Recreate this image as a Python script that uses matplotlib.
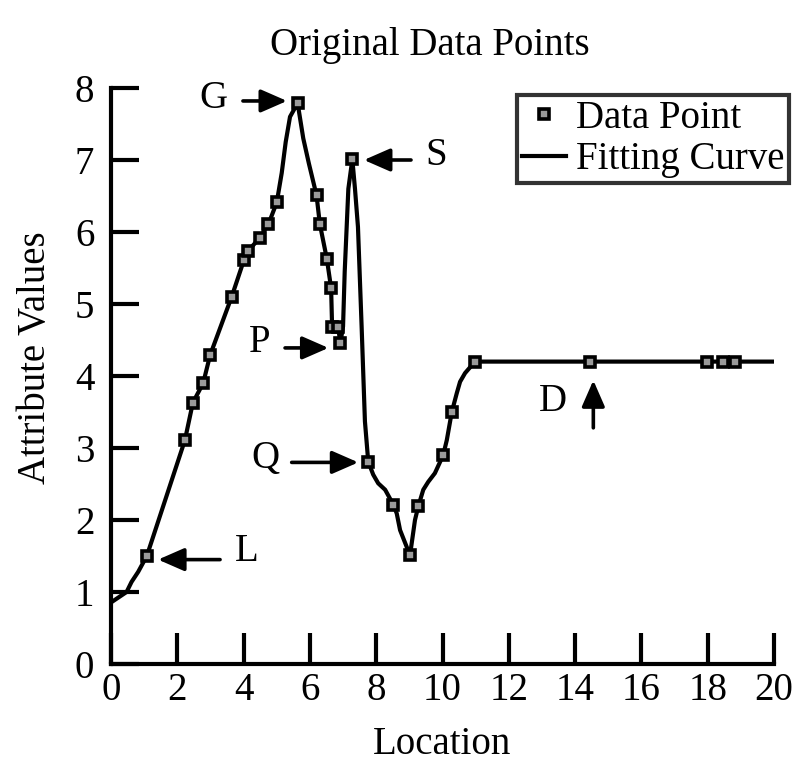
import matplotlib
matplotlib.use("Agg")
import matplotlib.pyplot as plt

plt.rcParams['font.family'] = ['Liberation Serif', 'DejaVu Serif']

# Data points
point_x = [1.08, 2.23, 2.47, 2.78, 2.99, 3.64, 4.01, 4.14, 4.49, 4.75, 5.00, 5.63,
           6.20, 6.30, 6.51, 6.64, 6.67, 6.85, 6.92, 7.28, 7.76, 8.52, 9.02, 9.27,
           10.02, 10.28, 10.98, 14.45, 17.97, 18.47, 18.82]
point_y = [1.50, 3.11, 3.63, 3.90, 4.29, 5.10, 5.61, 5.74, 5.92, 6.11, 6.41, 7.79,
           6.51, 6.11, 5.63, 5.22, 4.68, 4.68, 4.46, 7.01, 2.81, 2.21, 1.51, 2.19,
           2.90, 3.50, 4.20, 4.20, 4.20, 4.20, 4.20]

# Fitting curve vertices
curve_x = [0.05, 0.47, 0.62, 0.82, 1.08, 2.23, 2.47, 2.78, 2.99, 3.64, 4.01, 4.14,
           4.49, 4.75, 5.00, 5.15, 5.27, 5.40, 5.63, 5.80, 5.97, 6.20, 6.30, 6.51,
           6.64, 6.67, 6.85, 6.92, 7.00, 7.05, 7.16, 7.28, 7.36, 7.45, 7.56, 7.66,
           7.76, 7.91, 8.06, 8.27, 8.52, 8.62, 8.72, 9.02, 9.17, 9.27, 9.42, 9.57,
           9.77, 10.02, 10.13, 10.28, 10.43, 10.53, 10.68, 10.98, 20.0]
curve_y = [0.87, 1.00, 1.14, 1.28, 1.50, 3.11, 3.63, 3.90, 4.29, 5.10, 5.61, 5.74,
           5.92, 6.11, 6.41, 6.82, 7.25, 7.60, 7.79, 7.30, 6.95, 6.51, 6.11, 5.63,
           5.22, 4.68, 4.68, 4.46, 4.69, 5.45, 6.60, 7.01, 6.60, 6.07, 4.69, 3.37,
           2.81, 2.63, 2.51, 2.42, 2.21, 2.09, 1.86, 1.51, 2.00, 2.19, 2.42, 2.53,
           2.65, 2.90, 3.11, 3.50, 3.76, 3.92, 4.04, 4.20, 4.20]

# Annotations: label, label position, arrow tail, arrow tip
ann_labels = ['G', 'S', 'P', 'Q', 'L', 'D']
ann_text_xy = [(3.08, 7.86), (9.80, 7.06), (4.49, 4.46), (4.65, 2.86), (4.09, 1.56), (13.33, 3.64)]
ann_tail = [(3.98, 7.82), (9.05, 7.00), (5.25, 4.39), (5.45, 2.80), (3.29, 1.45), (14.55, 3.28)]
ann_tip = [(5.31, 7.82), (7.63, 7.00), (6.56, 4.39), (7.46, 2.80), (1.42, 1.45), (14.55, 3.94)]

x_ticks = list(range(0, 21, 2))
y_ticks = list(range(0, 9))

fig = plt.figure(figsize=(7.95, 7.65), dpi=100)
ax = fig.add_axes([111 / 795, 1 - 664 / 765, (774 - 111) / 795, (664 - 88) / 765])

ax.plot(curve_x, curve_y, color='black', lw=3, label='Fitting Curve', zorder=2)
ax.plot(point_x, point_y, ls='none', marker='s', ms=7, mfc='#9a9a9a', mec='black',
        mew=2.6, label='Data Point', zorder=3)

for lab, txy, tail, tip in zip(ann_labels, ann_text_xy, ann_tail, ann_tip):
    ax.text(txy[0], txy[1], lab, fontsize=28, ha='center', va='center')
    ax.annotate('', xy=tip, xytext=tail,
                arrowprops=dict(arrowstyle='-|>,head_length=0.8,head_width=0.35',
                                lw=2.6, color='black', mutation_scale=20,
                                shrinkA=0, shrinkB=0))

ax.set_xlim(0, 20)
ax.set_ylim(0, 8)
ax.set_xticks(x_ticks)
ax.set_yticks(y_ticks)
ax.spines['top'].set_visible(False)
ax.spines['right'].set_visible(False)
for s in ('left', 'bottom'):
    ax.spines[s].set_linewidth(3)
ax.tick_params(axis='y', direction='in', length=20, width=3, labelsize=28, pad=12)
ax.tick_params(axis='x', direction='in', length=22, width=3, labelsize=28, pad=6)

fig.text(430 / 795, 1 - 46 / 765, 'Original Data Points', fontsize=28, ha='center', va='center')
fig.text(442 / 795, 1 - 745 / 765, 'Location', fontsize=28, ha='center', va='center')
fig.text(36 / 795, 1 - 358 / 765, 'Attribute Values', fontsize=28, ha='center', va='center',
         rotation=90)

h, l = ax.get_legend_handles_labels()
leg = fig.legend([h[1], h[0]], [l[1], l[0]], loc='upper left',
                 bbox_to_anchor=(517 / 795, 1 - 95 / 765), borderaxespad=0,
                 fontsize=28, frameon=True, fancybox=False, borderpad=0.12,
                 handlelength=1.15, handletextpad=0.25, labelspacing=0.12,
                 numpoints=1)
leg.get_frame().set_edgecolor('black')
leg.get_frame().set_linewidth(3)

fig.savefig('out.png', dpi=100)
